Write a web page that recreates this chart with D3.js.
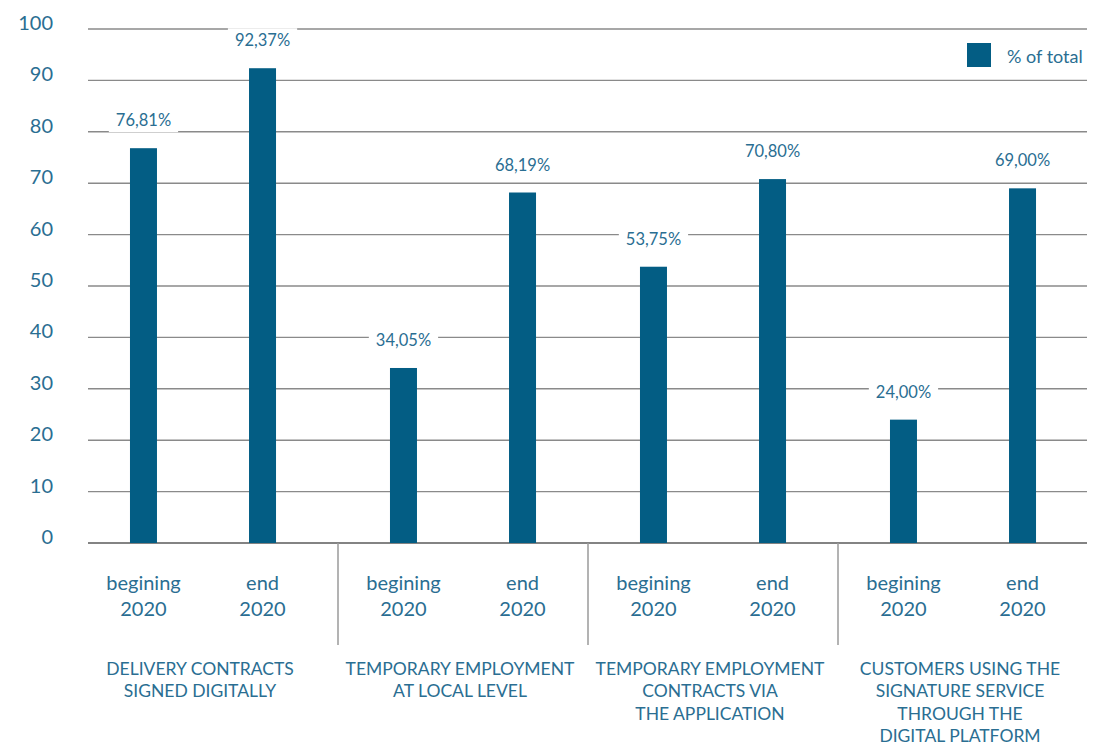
<!DOCTYPE html>
<html>
<head>
<meta charset="utf-8">
<script src="https://cdn.jsdelivr.net/npm/d3@7"></script>
<style>
  html, body { margin: 0; padding: 0; background: #fff; }
  svg { display: block; font-family: Lato, "Open Sans", sans-serif; }
</style>
</head>
<body>
<svg id="chart" width="1103" height="745"></svg>
<script>
// Category groups (multi-line titles), the two periods in each, and the shares
const groupTitles = [
  ["DELIVERY CONTRACTS", "SIGNED DIGITALLY"],
  ["TEMPORARY EMPLOYMENT", "AT LOCAL LEVEL"],
  ["TEMPORARY EMPLOYMENT", "CONTRACTS VIA", "THE APPLICATION"],
  ["CUSTOMERS USING THE", "SIGNATURE SERVICE", "THROUGH THE", "DIGITAL PLATFORM"]
];
const periods = [["begining", "2020"], ["end", "2020"]];
const beginValues = [76.81, 34.05, 53.75, 24.00];
const endValues = [92.37, 68.19, 70.80, 69.00];
const yTicks = [0, 10, 20, 30, 40, 50, 60, 70, 80, 90, 100];
const legendLabel = "% of total";

const barColor = "#035d84";
const textColor = "#2a6e92";
const gridColor = "#8a8a8a";

const svg = d3.select("#chart");

const plot = { left: 88, right: 1088, top: 29, bottom: 543 };
const gridRight = 1087;
const firstGroupShift = -10;   // first group sits a little closer to the value axis
const barWidth = 27;

const groupIdx = d3.range(groupTitles.length);
const x0 = d3.scaleBand().domain(groupIdx).range([plot.left, plot.right]).padding(0);
const x1 = d3.scalePoint().domain([0, 1]).range([0, x0.bandwidth()]).padding(0.55);
const y = d3.scaleLinear().domain([0, 100]).range([plot.bottom, plot.top]);

const groupShift = i => (i === 0 ? firstGroupShift : 0);
const barX = (g, p) => x0(g) + x1(p) + groupShift(g);

const fmt = v => d3.format(".2f")(v).replace(".", ",") + "%";

// Bars as flat records built from the value arrays
const bars = [];
groupIdx.forEach(g => {
  bars.push({ g, p: 0, v: beginValues[g] });
  bars.push({ g, p: 1, v: endValues[g] });
});

// Horizontal grid lines
svg.append("g")
  .selectAll("line")
  .data(yTicks)
  .join("line")
  .attr("x1", plot.left)
  .attr("x2", gridRight)
  .attr("y1", d => y(d))
  .attr("y2", d => y(d))
  .attr("stroke", d => (d === 0 ? "#5a5a5a" : gridColor))
  .attr("stroke-width", 1.4);

// Value-axis labels
svg.append("g")
  .selectAll("text")
  .data(yTicks)
  .join("text")
  .attr("x", 53)
  .attr("y", d => y(d) + 1)
  .attr("text-anchor", "end")
  .attr("fill", textColor)
  .attr("font-size", 20)
  .text(d => d);

// Group separators below the baseline
svg.append("g")
  .selectAll("line")
  .data(groupIdx.slice(1))
  .join("line")
  .attr("x1", d => x0(d))
  .attr("x2", d => x0(d))
  .attr("y1", plot.bottom)
  .attr("y2", 645)
  .attr("stroke", "#9a9a9a")
  .attr("stroke-width", 1.5);

// Bars
svg.append("g")
  .selectAll("rect")
  .data(bars)
  .join("rect")
  .attr("x", d => barX(d.g, d.p) - barWidth / 2)
  .attr("width", barWidth)
  .attr("y", d => y(d.v))
  .attr("height", d => y(0) - y(d.v))
  .attr("fill", barColor);

// Value labels on a white plate that interrupts the grid
const valueLabels = svg.append("g")
  .selectAll("g")
  .data(bars)
  .join("g")
  .attr("transform", d => `translate(${barX(d.g, d.p)},${y(d.v) - 22})`);

valueLabels.append("text")
  .attr("text-anchor", "middle")
  .attr("fill", textColor)
  .attr("font-size", 16.5)
  .text(d => fmt(d.v));

valueLabels.each(function () {
  const g = d3.select(this);
  const bb = g.select("text").node().getBBox();
  g.insert("rect", "text")
    .attr("x", bb.x - 7)
    .attr("y", bb.y - 2)
    .attr("width", bb.width + 14)
    .attr("height", bb.height + 4)
    .attr("fill", "#fff");
});

// Period labels under each bar
svg.append("g")
  .selectAll("text")
  .data(bars)
  .join("text")
  .attr("text-anchor", "middle")
  .attr("fill", textColor)
  .attr("font-size", 20)
  .attr("transform", d => `translate(${barX(d.g, d.p)},590)`)
  .selectAll("tspan")
  .data(d => periods[d.p])
  .join("tspan")
  .attr("x", 0)
  .attr("y", (d, i) => i * 26)
  .text(d => d);

// Group titles
svg.append("g")
  .selectAll("text")
  .data(groupIdx)
  .join("text")
  .attr("text-anchor", "middle")
  .attr("fill", textColor)
  .attr("font-size", 17.5)
  .attr("transform", g => `translate(${(barX(g, 0) + barX(g, 1)) / 2 - 3},675)`)
  .selectAll("tspan")
  .data(g => groupTitles[g])
  .join("tspan")
  .attr("x", 0)
  .attr("y", (d, i) => i * 22.3)
  .text(d => d);

// Legend
const legend = svg.append("g").attr("transform", "translate(967,43)");
legend.append("rect")
  .attr("width", 24)
  .attr("height", 24)
  .attr("fill", barColor);
legend.append("text")
  .attr("x", 40)
  .attr("y", 20)
  .attr("fill", textColor)
  .attr("font-size", 18)
  .text(legendLabel);
</script>
</body>
</html>
